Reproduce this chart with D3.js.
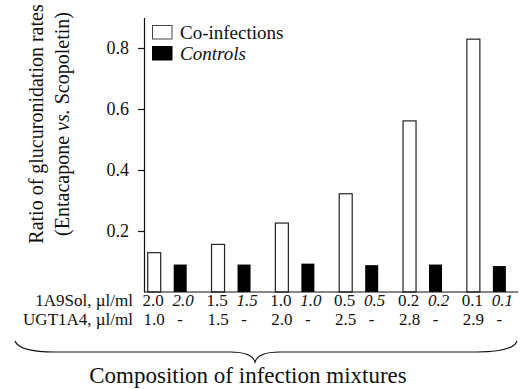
<!DOCTYPE html>
<html>
<head>
<meta charset="utf-8">
<script src="https://cdn.jsdelivr.net/npm/d3@7"></script>
<style>
  body { margin: 0; background: #fff; }
  svg { display: block; font-family: "Liberation Serif", "DejaVu Serif", serif; }
</style>
</head>
<body>
<svg id="chart"></svg>
<script>
// chart data
var solConc = ["2.0", "1.5", "1.0", "0.5", "0.2", "0.1"];
var ugtConc = ["1.0", "1.5", "2.0", "2.5", "2.8", "2.9"];
var seriesNames = ["Co-infections", "Controls"];
var coInfections = [0.129, 0.156, 0.226, 0.322, 0.561, 0.829];
var controls = [0.090, 0.090, 0.093, 0.088, 0.090, 0.085];
var yTicks = [0.2, 0.4, 0.6, 0.8];
var rowLabels = ["1A9Sol, \u00b5l/ml", "UGT1A4, \u00b5l/ml"];

var width = 520, height = 389;
var svg = d3.select("#chart").attr("width", width).attr("height", height);

var axisX = 144, baseY = 292;

var x = d3.scaleBand().domain(solConc).range([135.2, 518.2]).padding(0);
var inner = d3.scaleBand().domain(seriesNames).range([12.5, 51.5]).paddingInner(0.5);
var y = d3.scaleLinear().domain([0, 0.9]).range([baseY, 17.5]);

var rows = solConc.map(function(s, i) {
  return { sol: s, ugt: ugtConc[i], values: [coInfections[i], controls[i]] };
});

// bars
var g = svg.selectAll(".grp").data(rows).enter().append("g")
  .attr("class", "grp")
  .attr("transform", function(d) { return "translate(" + x(d.sol) + ",0)"; });

g.selectAll("rect")
  .data(function(d) { return d.values.map(function(v, j) { return { key: seriesNames[j], v: v }; }); })
  .enter().append("rect")
  .attr("x", function(d) { return inner(d.key); })
  .attr("width", inner.bandwidth())
  .attr("y", function(d) { return y(d.v); })
  .attr("height", function(d) { return baseY - y(d.v); })
  .attr("fill", function(d) { return d.key === "Controls" ? "#000" : "#fff"; })
  .attr("stroke", function(d) { return d.key === "Controls" ? "none" : "#222"; })
  .attr("stroke-width", 1.2);

// y axis
var yAxis = svg.append("g")
  .attr("transform", "translate(" + axisX + ",0)")
  .call(d3.axisLeft(y).tickValues(yTicks).tickSize(6).tickSizeOuter(0).tickFormat(d3.format(".1f")));
yAxis.attr("font-family", null);
yAxis.select(".domain").attr("stroke", "#111").attr("stroke-width", 1.2);
yAxis.selectAll(".tick line").attr("stroke", "#111").attr("stroke-width", 1.2);
yAxis.selectAll(".tick text")
  .attr("font-size", 18).attr("fill", "#111").attr("x", -15);

// x baseline
svg.append("line")
  .attr("x1", axisX).attr("x2", x.range()[1])
  .attr("y1", baseY).attr("y2", baseY)
  .attr("stroke", "#111").attr("stroke-width", 1.2);

// y title
var yt = svg.append("text")
  .attr("transform", "translate(0,124) rotate(-90)")
  .attr("text-anchor", "middle")
  .attr("font-size", 20).attr("fill", "#111");
yt.append("tspan").attr("x", 0).attr("y", 43).text("Ratio of glucuronidation rates");
var l2 = yt.append("tspan").attr("x", 0).attr("y", 69);
l2.append("tspan").text("(Entacapone ");
l2.append("tspan").attr("font-style", "italic").text("vs.");
l2.append("tspan").text(" Scopoletin)");

// legend
var legend = svg.append("g");
seriesNames.forEach(function(name, i) {
  var ly = 25.5 + i * 21;
  legend.append("rect")
    .attr("x", 152.5).attr("y", ly).attr("width", 19.5).attr("height", 13.5)
    .attr("fill", i === 1 ? "#000" : "#fff")
    .attr("stroke", i === 1 ? "#000" : "#444").attr("stroke-width", 1);
  legend.append("text")
    .attr("x", 180).attr("y", ly + 13)
    .attr("font-size", 19).attr("fill", "#111")
    .attr("font-style", i === 1 ? "italic" : "normal")
    .text(name);
});

// composition table under the axis
var cWhite = function(d) { return x(d.sol) + inner("Co-infections") + inner.bandwidth() / 2; };
var cBlack = function(d) { return x(d.sol) + inner("Controls") + inner.bandwidth() / 2; };
var rowY = [306, 325];

rowLabels.forEach(function(lbl, i) {
  svg.append("text").attr("x", 133).attr("y", rowY[i])
    .attr("text-anchor", "end").attr("font-size", 17).attr("fill", "#111").text(lbl);
});

var cells = svg.append("g").attr("font-size", 17).attr("fill", "#111").attr("text-anchor", "middle");
cells.selectAll(".sol").data(rows).enter().append("text")
  .attr("x", function(d) { return cWhite(d) - 1; }).attr("y", rowY[0]).text(function(d) { return d.sol; });
cells.selectAll(".solc").data(rows).enter().append("text")
  .attr("x", function(d) { return cBlack(d) + 3; }).attr("y", rowY[0])
  .attr("font-style", "italic").text(function(d) { return d.sol; });
cells.selectAll(".ugt").data(rows).enter().append("text")
  .attr("x", cWhite).attr("y", rowY[1]).text(function(d) { return d.ugt; });
cells.selectAll(".ugtc").data(rows).enter().append("text")
  .attr("x", cBlack).attr("y", rowY[1]).text("-");

// brace
var bx0 = 15, bx1 = 517, bxc = 255, by0 = 341, bym = 352, byt = 362;
svg.append("path")
  .attr("d", "M" + bx0 + "," + by0 +
    " Q" + (bx0 + 4) + "," + bym + " " + (bx0 + 40) + "," + bym +
    " L" + (bxc - 25) + "," + bym +
    " Q" + (bxc - 3) + "," + bym + " " + bxc + "," + byt +
    " Q" + (bxc + 3) + "," + bym + " " + (bxc + 25) + "," + bym +
    " L" + (bx1 - 40) + "," + bym +
    " Q" + (bx1 - 4) + "," + bym + " " + bx1 + "," + by0)
  .attr("fill", "none").attr("stroke", "#111").attr("stroke-width", 1.2);

svg.append("text")
  .attr("x", 248).attr("y", 383)
  .attr("text-anchor", "middle").attr("font-size", 23).attr("fill", "#111")
  .text("Composition of infection mixtures");
</script>
</body>
</html>
